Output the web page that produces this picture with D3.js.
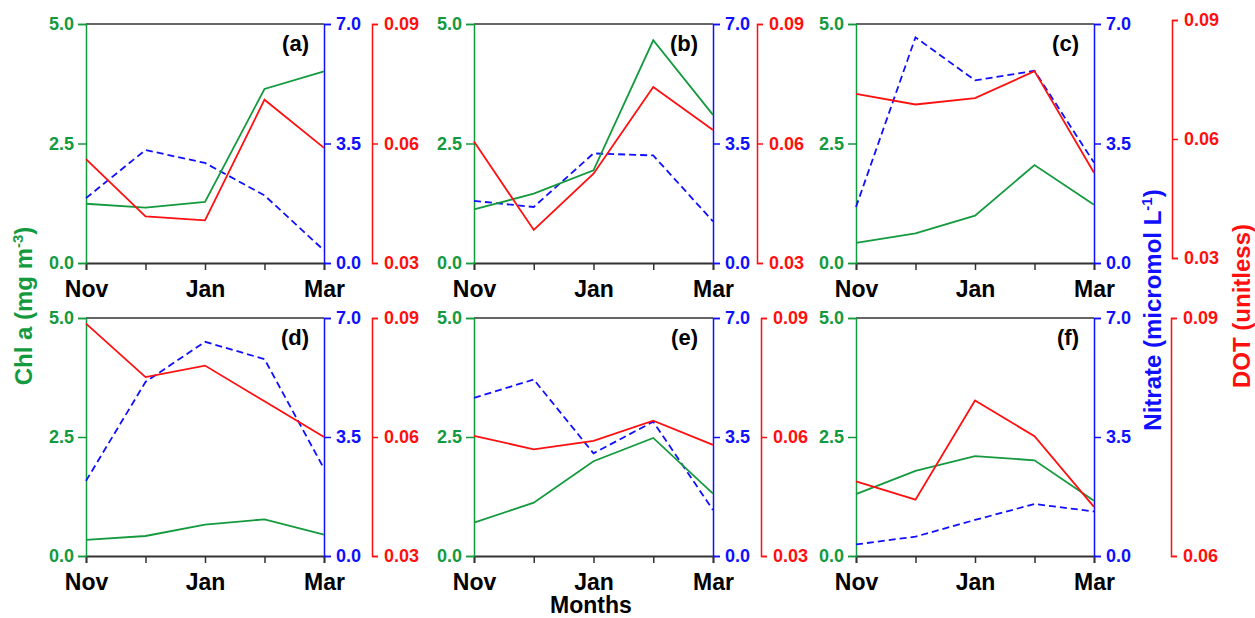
<!DOCTYPE html>
<html>
<head>
<meta charset="utf-8">
<script src="https://cdn.jsdelivr.net/npm/d3@7"></script>
<style>
  body { margin: 0; background: #fff; }
  text { font-family: "Liberation Sans", Arial, sans-serif; font-weight: bold; }
</style>
</head>
<body>
<svg id="chart" width="1255" height="618"></svg>
<script>
// months on the x axis
var months = ["Nov", "Dec", "Jan", "Feb", "Mar"];
var monthLabels = ["Nov", "", "Jan", "", "Mar"];
var panelNames = ["(a)", "(b)", "(c)", "(d)", "(e)", "(f)"];

// Chl a (mg m-3), one row per panel
var chl = [
  [1.24, 1.16, 1.28, 3.64, 4.01],
  [1.12, 1.45, 1.94, 4.66, 3.10],
  [0.42, 0.62, 0.99, 2.05, 1.22],
  [0.34, 0.42, 0.66, 0.77, 0.45],
  [0.70, 1.12, 1.99, 2.48, 1.31],
  [1.30, 1.79, 2.10, 2.01, 1.16]
];
// Nitrate (micromol L-1)
var nitrate = [
  [1.90, 3.31, 2.93, 1.98, 0.37],
  [1.82, 1.64, 3.21, 3.15, 1.22],
  [1.64, 6.61, 5.35, 5.63, 2.94],
  [2.21, 5.12, 6.30, 5.79, 2.57],
  [4.65, 5.19, 3.02, 3.95, 1.35],
  [0.34, 0.57, 1.06, 1.53, 1.31]
];
// DOT (unitless)
var dot = [
  [0.0561, 0.0417, 0.0407, 0.0710, 0.0589],
  [0.0605, 0.0383, 0.0524, 0.0742, 0.0634],
  [0.0714, 0.0687, 0.0703, 0.0771, 0.0515],
  [0.0886, 0.0751, 0.0780, 0.0690, 0.0600],
  [0.0603, 0.0569, 0.0590, 0.0641, 0.0580],
  [0.0694, 0.0671, 0.0796, 0.0751, 0.0662]
];

var chlDomain = [0, 5], chlTicks = [0, 2.5, 5];
var nitDomain = [0, 7], nitTicks = [0, 3.5, 7];
var dotDomains = [[0.03, 0.09], [0.03, 0.09], [0.03, 0.09], [0.03, 0.09], [0.03, 0.09], [0.06, 0.09]];
var dotTicks = [[0.03, 0.06, 0.09], [0.03, 0.06, 0.09], [0.03, 0.06, 0.09], [0.03, 0.06, 0.09], [0.03, 0.06, 0.09], [0.06, 0.09]];

var GREEN = "#149a3e", BLUE = "#1010ff", RED = "#ff0f0f", DARK = "#333";

// panel geometry: plot box and where the red axis sits
var boxes = [
  {l: 86,  r: 324,  t: 24,  b: 263, rx: 372,  rt: 24,  rb: 263},
  {l: 474, r: 713,  t: 24,  b: 263, rx: 757,  rt: 24,  rb: 263},
  {l: 856, r: 1094, t: 24,  b: 263, rx: 1172, rt: 20,  rb: 258},
  {l: 86,  r: 324,  t: 318, b: 556, rx: 372,  rt: 318, rb: 556},
  {l: 474, r: 713,  t: 318, b: 556, rx: 761,  rt: 318, rb: 556},
  {l: 856, r: 1094, t: 318, b: 556, rx: 1171, rt: 318, rb: 556}
];

var svg = d3.select("#chart");

boxes.forEach(function(bx, i) {
  var x = d3.scalePoint().domain(months).range([bx.l, bx.r]);
  var yChl = d3.scaleLinear().domain(chlDomain).range([bx.b, bx.t]);
  var yNit = d3.scaleLinear().domain(nitDomain).range([bx.b, bx.t]);
  var yDot = d3.scaleLinear().domain(dotDomains[i]).range([bx.rb, bx.rt]);

  var g = svg.append("g");

  // top frame line
  g.append("line")
    .attr("x1", bx.l).attr("x2", bx.r).attr("y1", bx.t).attr("y2", bx.t)
    .attr("stroke", DARK).attr("stroke-width", 1.5);

  // x axis
  var xa = g.append("g")
    .attr("transform", "translate(0," + bx.b + ")")
    .call(d3.axisBottom(x).tickSize(7).tickPadding(6).tickFormat(function(d, j) { return monthLabels[j]; }));
  xa.select(".domain").attr("stroke", DARK).attr("stroke-width", 1.8);
  xa.selectAll(".tick line").attr("stroke", DARK).attr("stroke-width", 1.5);
  xa.selectAll(".tick text").attr("fill", "#000").style("font-size", "23px")
    .attr("y", 0).attr("dy", 0).attr("transform", "translate(0,34)");

  // green left axis
  var ga = g.append("g")
    .attr("transform", "translate(" + bx.l + ",0)")
    .call(d3.axisLeft(yChl).tickValues(chlTicks).tickSize(8).tickPadding(4).tickFormat(d3.format(".1f")));
  ga.select(".domain").attr("stroke", GREEN).attr("stroke-width", 1.5);
  ga.selectAll(".tick line").attr("stroke", GREEN).attr("stroke-width", 1.5);
  ga.selectAll(".tick text").attr("fill", GREEN).style("font-size", "18px");

  // blue right axis
  var ba = g.append("g")
    .attr("transform", "translate(" + bx.r + ",0)")
    .call(d3.axisRight(yNit).tickValues(nitTicks).tickSize(7).tickPadding(5).tickFormat(d3.format(".1f")));
  ba.select(".domain").attr("stroke", BLUE).attr("stroke-width", 1.5);
  ba.selectAll(".tick line").attr("stroke", BLUE).attr("stroke-width", 1.5);
  ba.selectAll(".tick text").attr("fill", BLUE).style("font-size", "18px");

  // red offset axis
  var ra = g.append("g")
    .attr("transform", "translate(" + bx.rx + ",0)")
    .call(d3.axisRight(yDot).tickValues(dotTicks[i]).tickSize(6).tickPadding(6).tickFormat(d3.format(".2f")));
  ra.select(".domain").attr("stroke", RED).attr("stroke-width", 1.5);
  ra.selectAll(".tick line").attr("stroke", RED).attr("stroke-width", 1.5);
  ra.selectAll(".tick text").attr("fill", RED).style("font-size", "18px");

  // series
  var lineChl = d3.line().x(function(d, j) { return x(months[j]); }).y(function(d) { return yChl(d); });
  var lineNit = d3.line().x(function(d, j) { return x(months[j]); }).y(function(d) { return yNit(d); });
  var lineDot = d3.line().x(function(d, j) { return x(months[j]); }).y(function(d) { return yDot(d); });

  g.append("path").attr("d", lineNit(nitrate[i]))
    .attr("fill", "none").attr("stroke", BLUE).attr("stroke-width", 1.8).attr("stroke-dasharray", "7,4");
  g.append("path").attr("d", lineChl(chl[i]))
    .attr("fill", "none").attr("stroke", GREEN).attr("stroke-width", 1.8);
  g.append("path").attr("d", lineDot(dot[i]))
    .attr("fill", "none").attr("stroke", RED).attr("stroke-width", 1.8);

  // panel letter
  g.append("text")
    .attr("x", bx.r - 15).attr("y", bx.t + 27)
    .attr("text-anchor", "end").style("font-size", "22px").attr("fill", "#000")
    .text(panelNames[i]);
});

// axis titles
var chlTitle = svg.append("text")
  .attr("transform", "translate(32,306) rotate(-90)")
  .attr("text-anchor", "middle").attr("fill", GREEN).style("font-size", "24px");
chlTitle.append("tspan").text("Chl a (mg m");
chlTitle.append("tspan").attr("dy", -9).style("font-size", "15px").text("-3");
chlTitle.append("tspan").attr("dy", 9).text(")");

var nitTitle = svg.append("text")
  .attr("transform", "translate(1161,310) rotate(-90)")
  .attr("text-anchor", "middle").attr("fill", BLUE).style("font-size", "24px");
nitTitle.append("tspan").text("Nitrate (micromol L");
nitTitle.append("tspan").attr("dy", -9).style("font-size", "15px").text("-1");
nitTitle.append("tspan").attr("dy", 9).text(")");

svg.append("text")
  .attr("transform", "translate(1250,306) rotate(-90)")
  .attr("text-anchor", "middle").attr("fill", RED).style("font-size", "24px")
  .text("DOT  (unitless)");

svg.append("text")
  .attr("x", 591).attr("y", 613)
  .attr("text-anchor", "middle").attr("fill", "#000").style("font-size", "23px")
  .text("Months");
</script>
</body>
</html>
